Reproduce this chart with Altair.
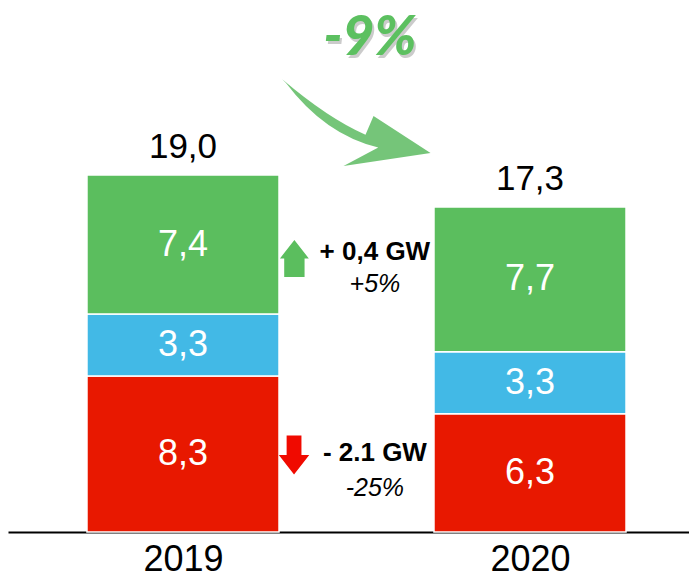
import altair as alt
import pandas as pd

years = ["2019", "2020"]
year_pos = [0, 1]
segments = ["Autres", "Hydro", "Renouvelable"]
seg_order = [0, 1, 2]
seg_colors = ["#E81800", "#42B9E6", "#5BBE5E"]
values_2019 = [8.3, 3.3, 7.4]
values_2020 = [6.3, 3.3, 7.7]
totals = [19.0, 17.3]

rows = []
for pos, vals in zip(year_pos, [values_2019, values_2020]):
    for s, o, v in zip(segments, seg_order, vals):
        rows.append({"pos": pos, "segment": s, "order": o, "value": v})
df = pd.DataFrame(rows)
tot_df = pd.DataFrame({"pos": year_pos, "total": totals})

half = 0.2767
xscale = alt.Scale(domain=[-0.5043, 1.4582], nice=False, zero=False)
yscale = alt.Scale(domain=[0, 27.89], nice=False, zero=True)

base = alt.Chart(df).transform_stack(
    stack="value", groupby=["pos"], as_=["y0", "y1"],
    sort=[alt.SortField("order")]
).transform_calculate(
    xs=f"datum.pos - {half}", xe=f"datum.pos + {half}",
    ym="(datum.y0 + datum.y1) / 2",
    lab="replace(format(datum.value, '.1f'), '.', ',')"
)

bars = base.mark_bar(stroke="white", strokeWidth=1.5).encode(
    x=alt.X("xs:Q", scale=xscale, axis=alt.Axis(
        values=year_pos, labelExpr="datum.value == 0 ? '2019' : '2020'",
        title=None, grid=False, ticks=False, domainColor="black",
        domainWidth=2, labelFontSize=36, labelFont="Liberation Sans",
        labelColor="black", labelPadding=10)),
    x2="xe:Q",
    y=alt.Y("y0:Q", scale=yscale, axis=None),
    y2="y1:Q",
    color=alt.Color("segment:N", scale=alt.Scale(domain=segments, range=seg_colors), legend=None),
)

inner = base.mark_text(color="white", fontSize=36, font="Liberation Sans").encode(
    x=alt.X("pos:Q", scale=xscale), y=alt.Y("ym:Q", scale=yscale), text="lab:N"
)

tops = alt.Chart(tot_df).transform_calculate(
    lab="replace(format(datum.total, '.1f'), '.', ',')"
).mark_text(color="black", fontSize=35, font="Liberation Sans", baseline="bottom", dy=-10).encode(
    x=alt.X("pos:Q", scale=xscale), y=alt.Y("total:Q", scale=yscale), text="lab:N"
)

# annotations
ann_x = [0.553, 0.553, 0.553, 0.553]
ann_y = [14.90, 13.20, 4.20, 2.34]
ann_text = ["+ 0,4 GW", "+5%", "- 2.1 GW", "-25%"]
ann_weight = ["bold", "normal", "bold", "normal"]
ann_df = pd.DataFrame({"x": ann_x, "y": ann_y, "t": ann_text, "w": ann_weight})

ann_bold = alt.Chart(ann_df[ann_df.w == "bold"]).mark_text(
    fontSize=26, fontWeight="bold", font="Liberation Sans", color="black"
).encode(x=alt.X("x:Q", scale=xscale), y=alt.Y("y:Q", scale=yscale), text="t:N")
ann_it = alt.Chart(ann_df[ann_df.w == "normal"]).mark_text(
    fontSize=25, fontStyle="italic", font="Liberation Sans", color="black"
).encode(x=alt.X("x:Q", scale=xscale), y=alt.Y("y:Q", scale=yscale), text="t:N")

up_df = pd.DataFrame({"x": [0.321], "y": [14.56]})
down_df = pd.DataFrame({"x": [0.320], "y": [4.10]})
up_arrow = alt.Chart(up_df).mark_point(
    shape="M 0 -1 L 0.78 0 L 0.55 0 L 0.55 1 L -0.55 1 L -0.55 0 L -0.78 0 Z",
    size=1369, filled=True, color="#5BBE5E", opacity=1, strokeWidth=0
).encode(x=alt.X("x:Q", scale=xscale), y=alt.Y("y:Q", scale=yscale))
down_arrow = alt.Chart(down_df).mark_point(
    shape="M 0 1 L 0.78 0 L 0.38 0 L 0.38 -1 L -0.38 -1 L -0.38 0 L -0.78 0 Z",
    size=1521, filled=True, color="#F00A00", opacity=1, strokeWidth=0
).encode(x=alt.X("x:Q", scale=xscale), y=alt.Y("y:Q", scale=yscale))

# big change label and curved arrow
chg_df = pd.DataFrame({"x": [0.539], "y": [26.3], "t": ["-9%"]})
chg_shadow = alt.Chart(chg_df).mark_text(
    fontSize=55, fontWeight=900, fontStyle="italic", font="Lato",
    color="#555555", opacity=0.3, dx=2, dy=3
).encode(x=alt.X("x:Q", scale=xscale), y=alt.Y("y:Q", scale=yscale), text="t:N")
chg = alt.Chart(chg_df).mark_text(
    fontSize=55, fontWeight=900, fontStyle="italic", font="Lato", color="#5CC060"
).encode(x=alt.X("x:Q", scale=xscale), y=alt.Y("y:Q", scale=yscale), text="t:N")

swoosh_df = pd.DataFrame({"x": [0.5], "y": [21.82]})
swoosh = alt.Chart(swoosh_df).mark_point(
    shape="M -0.99 -0.57 Q -0.38 -0.05 0.12 0.17 L 0.227 -0.08 L 0.987 0.413 L -0.173 0.587 L 0.29 0.34 Q -0.42 0.17 -0.94 -0.52 Z",
    size=22500, filled=True, color="#5DBB62", opacity=0.85, strokeWidth=0
).encode(x=alt.X("x:Q", scale=xscale), y=alt.Y("y:Q", scale=yscale))

chart = alt.layer(
    bars, inner, tops, ann_bold, ann_it, up_arrow, down_arrow, swoosh, chg_shadow, chg
).properties(width=681, height=524, padding=0).configure_view(stroke=None)

chart.save("out.html", embed_options={"renderer": "svg", "actions": False})
